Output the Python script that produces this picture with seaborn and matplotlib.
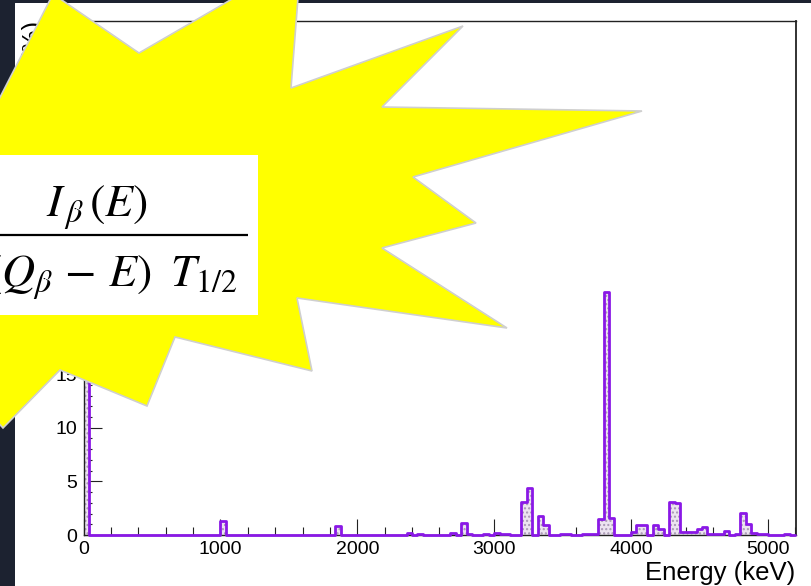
import numpy as np
import pandas as pd
import matplotlib
matplotlib.use("Agg")
import matplotlib.pyplot as plt
from matplotlib.patches import Polygon, Rectangle
from matplotlib.ticker import MultipleLocator, FuncFormatter
import seaborn as sns

# ---- beta-feeding spectrum, 40 keV bins (bin low edge in keV -> intensity in %) ----
bin_width = 40
bin_start_kev = [0, 1000, 1840, 2360, 2440, 2680, 2760, 2800, 2920, 3000, 3040, 3080,
                 3200, 3240, 3320, 3360, 3480, 3520, 3640, 3680, 3720,
                 3760, 3800, 3840, 4000, 4040, 4080, 4160, 4200, 4280, 4320,
                 4360, 4400, 4440, 4480, 4520, 4560, 4600, 4640, 4680, 4760,
                 4800, 4840, 4880, 4920, 4960, 5120]
intensity = [46.0, 1.28, 0.87, 0.20, 0.10, 0.22, 1.15, 0.10, 0.10, 0.15, 0.10, 0.10,
             3.05, 4.35, 1.77, 0.93, 0.05, 0.05, 0.05, 0.05, 0.05,
             1.52, 22.6, 1.62, 0.31, 0.93, 0.93, 0.93, 0.56, 3.10, 3.00,
             0.30, 0.30, 0.30, 0.53, 0.72, 0.05, 0.05, 0.05, 0.38, 0.10,
             2.08, 1.02, 0.15, 0.10, 0.10, 0.10]

energy_range = (0, 5205)
intensity_range = (0, 47.9)
hist_range = (0, 5200)
labelled_y_max = 15   # higher y labels sit under the callout

x_title = "Energy (keV)"
y_title = "Iβ (%)"
numerator = r"$I_{\,\beta}\,(E)$"
denominator = r"$(Q_{\beta}\, -\, E)\;\;T_{1/2}$"

# ---- styling ----
sns.set_theme(style="ticks")
plt.rcParams["font.family"] = ["Liberation Sans", "DejaVu Sans"]
plt.rcParams["mathtext.fontset"] = "stix"
plt.rcParams["hatch.linewidth"] = 1.0

W, H = 812, 586
fig = plt.figure(figsize=(W / 100, H / 100), dpi=100, facecolor="#1c2230")

# white canvas
bg = fig.add_axes([15 / W, 0, (W - 15) / W, (H - 3) / H], zorder=0)
bg.set_axis_off()
bg.add_patch(Rectangle((0, 0), 1, 1, transform=bg.transAxes, color="white", zorder=0))

# histogram frame
left, right, top, bottom = 83.7, 795.7, 21, 535
ax = fig.add_axes([left / W, (H - bottom) / H, (right - left) / W, (bottom - top) / H], zorder=1)
ax.set_facecolor("white")

df = pd.DataFrame({
    "energy": np.array(bin_start_kev) + bin_width / 2,
    "intensity": intensity,
})

purple = "#8a18e6"
# dotted fill
sns.histplot(data=df, x="energy", weights="intensity", binwidth=bin_width,
             binrange=hist_range, stat="count", element="bars", fill=True,
             facecolor="#ece4f0", edgecolor="#a898b4", hatch="....", linewidth=0, ax=ax)
# outline
sns.histplot(data=df, x="energy", weights="intensity", binwidth=bin_width,
             binrange=hist_range, stat="count", element="step", fill=False,
             color=purple, linewidth=2.0, ax=ax)
for ln in ax.lines:
    ln.set_clip_on(False)
    ln.set_zorder(3)

ax.set_xlim(*energy_range)
ax.set_ylim(*intensity_range)

ax.xaxis.set_major_locator(MultipleLocator(1000))
ax.xaxis.set_minor_locator(MultipleLocator(200))
ax.yaxis.set_major_locator(MultipleLocator(5))
ax.yaxis.set_minor_locator(MultipleLocator(1))
ax.yaxis.set_major_formatter(FuncFormatter(
    lambda v, pos: f"{v:g}" if v <= labelled_y_max else ""))
ax.tick_params(which="both", direction="in", top=False, right=False,
               colors="#222222", width=0.8, labelsize=14, pad=4.5)
ax.tick_params(axis="x", which="major", length=11.3)
ax.tick_params(axis="x", which="minor", length=5.8)
ax.tick_params(axis="y", which="major", length=12.7)
ax.tick_params(axis="y", which="minor", length=5.6)
for lab in ax.get_xticklabels() + ax.get_yticklabels():
    lab.set_color("black")

for side, sp in ax.spines.items():
    sp.set_visible(True)
    sp.set_color("#222222")
    sp.set_linewidth(1.0)
ax.spines["right"].set_linewidth(1.3)

ax.set_xlabel(x_title, fontsize=18.5, loc="right", color="black")
ax.xaxis.set_label_coords(1.0, -(580 - bottom) / (bottom - top))
ax.xaxis.label.set_va("baseline")
ax.set_ylabel(y_title, fontsize=18.5, loc="top", color="black")
ax.yaxis.set_label_coords((46 - left) / (right - left), 1.0)

# ---- starburst callout with the formula ----
ov = fig.add_axes([0, 0, 1, 1], zorder=5)
ov.set_xlim(0, W)
ov.set_ylim(H, 0)
ov.set_axis_off()
ov.patch.set_visible(False)

burst = [(53, -6), (139, 53), (301, -41), (291, 88), (463, 26), (382, 107),
         (642, 111), (413, 177), (476, 223), (382, 248), (507, 328), (297, 298),
         (312, 371), (175, 337), (147, 406), (60, 370), (3, 428), (-40, 380),
         (-80, 200), (-27, 150)]
ov.add_patch(Polygon(burst, closed=True, facecolor="#ffff00", edgecolor="#cfcfcf",
                     linewidth=1.2, joinstyle="miter"))
ov.add_patch(Rectangle((-20, 155), 278, 160, facecolor="white", edgecolor="none"))
ov.plot([-20, 248], [234.5, 234.5], color="black", linewidth=1.6, solid_capstyle="butt")
ov.text(96.5, 217, numerator, fontsize=33, ha="center", va="baseline", color="black")
ov.text(238, 286.5, denominator, fontsize=33, ha="right", va="baseline", color="black")

fig.savefig("out.png", dpi=100, facecolor=fig.get_facecolor())
